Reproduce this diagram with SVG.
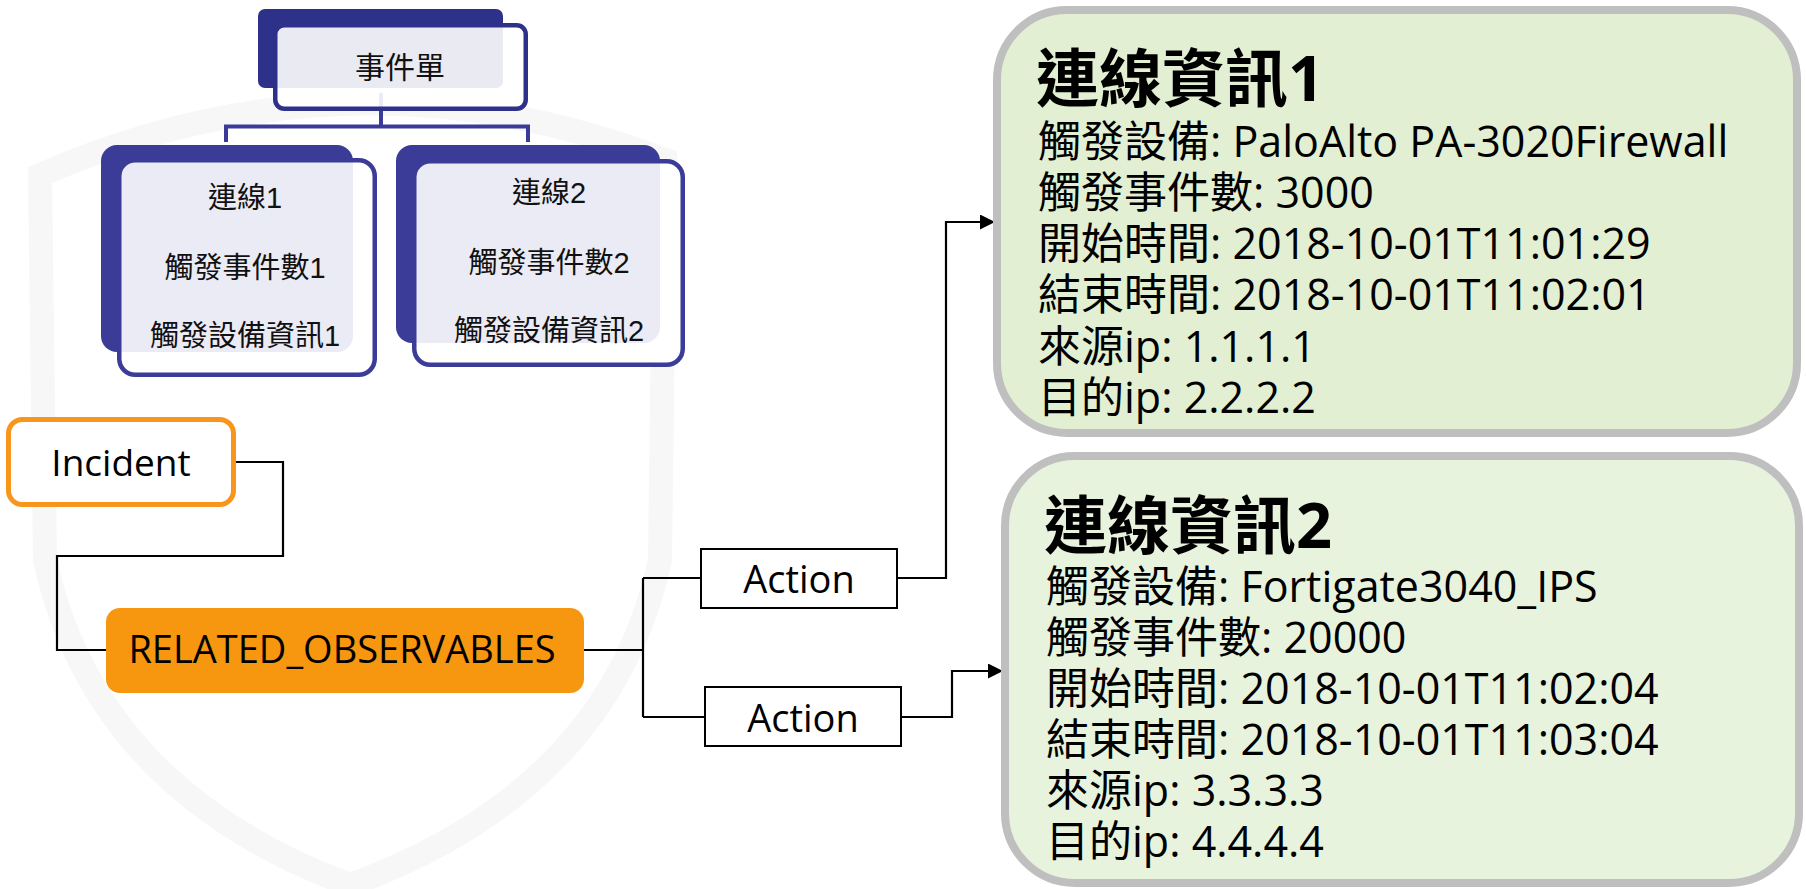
<svg xmlns="http://www.w3.org/2000/svg" width="1806" height="889" viewBox="0 0 1806 889">
<defs>
<style>
.wm{fill:none;stroke:#f7f7f7;stroke-width:24}
.back1{fill:#2e3189}
.back2{fill:#3b3b98}
.front1{fill:#ffffff;fill-opacity:0.9;stroke:#2e3189;stroke-width:4.5}
.front2{fill:#ffffff;fill-opacity:0.9;stroke:#3b3b98;stroke-width:4.5}
.tree{fill:none;stroke:#3a3a98;stroke-width:4}
.nt{font-family:"Liberation Sans","Noto Sans CJK TC",sans-serif;font-size:29px;fill:#111;text-anchor:middle}
.lbl{font-family:"Open Sans","Noto Sans CJK TC",sans-serif;font-size:37px;fill:#000;text-anchor:middle}
.act{fill:#fff;stroke:#000;stroke-width:2}
.conn{fill:none;stroke:#000;stroke-width:2.2}
.info{stroke:#bfbfbf;stroke-width:8}
.body{font-family:"Open Sans","Noto Sans CJK TC",sans-serif;font-size:43px;fill:#000}
.ttl{font-size:63px;font-weight:700}
</style>
<marker id="arr" markerUnits="userSpaceOnUse" markerWidth="16" markerHeight="16" refX="15" refY="7.5" orient="auto">
<path d="M0,0 L15,7.5 L0,15 Z" fill="#000"/>
</marker>
</defs>
<rect width="1806" height="889" fill="#ffffff"/>
<g id="watermark">
<path class="wm" d="M40 175 Q350 40 665 160 L660 560 Q610 790 350 885 Q95 790 45 560 Z"/>
</g>
<g id="connectors">
<path class="tree" d="M381 93 V126.5 M226 126.5 H528 M226 124.5 V142 M528 124.5 V142"/>
<path class="conn" d="M236 462 H283 V556 H57 V650 H106"/>
<path class="conn" d="M584 650 H643 M643 578 V717 M643 578 H701 M643 717 H705"/>
<path class="conn" d="M897 578 H946 V222 H995" marker-end="url(#arr)"/>
<path class="conn" d="M901 717 H952 V671 H1003" marker-end="url(#arr)"/>
</g>
<g id="node-ticket">
<rect class="back1" x="258" y="9" width="245" height="79" rx="7"/>
<rect class="front1" x="275.25" y="25.25" width="250.5" height="83.5" rx="9"/>
<text class="nt" x="400" y="78" style="font-size:30px">事件單</text>
</g>
<g id="node-conn1">
<rect class="back2" x="101" y="145" width="252" height="207" rx="16"/>
<rect class="front2" x="119.25" y="160.25" width="255.5" height="214.5" rx="16"/>
<text class="nt" x="245" y="208">連線1</text>
<text class="nt" x="245" y="278">觸發事件數1</text>
<text class="nt" x="245" y="346">觸發設備資訊1</text>
</g>
<g id="node-conn2">
<rect class="back2" x="396" y="145" width="264" height="198" rx="16"/>
<rect class="front2" x="414.25" y="161.25" width="268.5" height="203.5" rx="16"/>
<text class="nt" x="549" y="203">連線2</text>
<text class="nt" x="549" y="273">觸發事件數2</text>
<text class="nt" x="549" y="341">觸發設備資訊2</text>
</g>
<g id="node-incident">
<rect x="8.5" y="419.5" width="225" height="85" rx="14" fill="#fff" stroke="#f7961a" stroke-width="5"/>
<text class="lbl" x="121" y="476">Incident</text>
</g>
<g id="node-related">
<rect x="106" y="608" width="478" height="85" rx="14" fill="#f7960f"/>
<text class="lbl" x="342" y="663" style="font-size:38px">RELATED_OBSERVABLES</text>
</g>
<g id="node-action1">
<rect class="act" x="701" y="549" width="196" height="59"/>
<text class="lbl" x="799" y="593" style="font-size:38px">Action</text>
</g>
<g id="node-action2">
<rect class="act" x="705" y="687" width="196" height="59"/>
<text class="lbl" x="803" y="732" style="font-size:38px">Action</text>
</g>
<g id="node-info1">
<rect class="info" x="997" y="10" width="800" height="423" rx="70" fill="#e2efd2"/>
<text class="body"><tspan class="ttl" x="1036" y="101">連線資訊1</tspan><tspan x="1038" y="157">觸發設備: PaloAlto PA-3020Firewall</tspan><tspan x="1038" y="208">觸發事件數: 3000</tspan><tspan x="1038" y="259">開始時間: 2018-10-01T11:01:29</tspan><tspan x="1038" y="310">結束時間: 2018-10-01T11:02:01</tspan><tspan x="1038" y="362">來源ip: 1.1.1.1</tspan><tspan x="1038" y="413">目的ip: 2.2.2.2</tspan></text>
</g>
<g id="node-info2">
<rect class="info" x="1005" y="456" width="794" height="427" rx="70" fill="#e8f3de"/>
<text class="body"><tspan class="ttl" x="1044" y="548">連線資訊2</tspan><tspan x="1046" y="602">觸發設備: Fortigate3040_IPS</tspan><tspan x="1046" y="653">觸發事件數: 20000</tspan><tspan x="1046" y="704">開始時間: 2018-10-01T11:02:04</tspan><tspan x="1046" y="755">結束時間: 2018-10-01T11:03:04</tspan><tspan x="1046" y="806">來源ip: 3.3.3.3</tspan><tspan x="1046" y="857">目的ip: 4.4.4.4</tspan></text>
</g>
</svg>
